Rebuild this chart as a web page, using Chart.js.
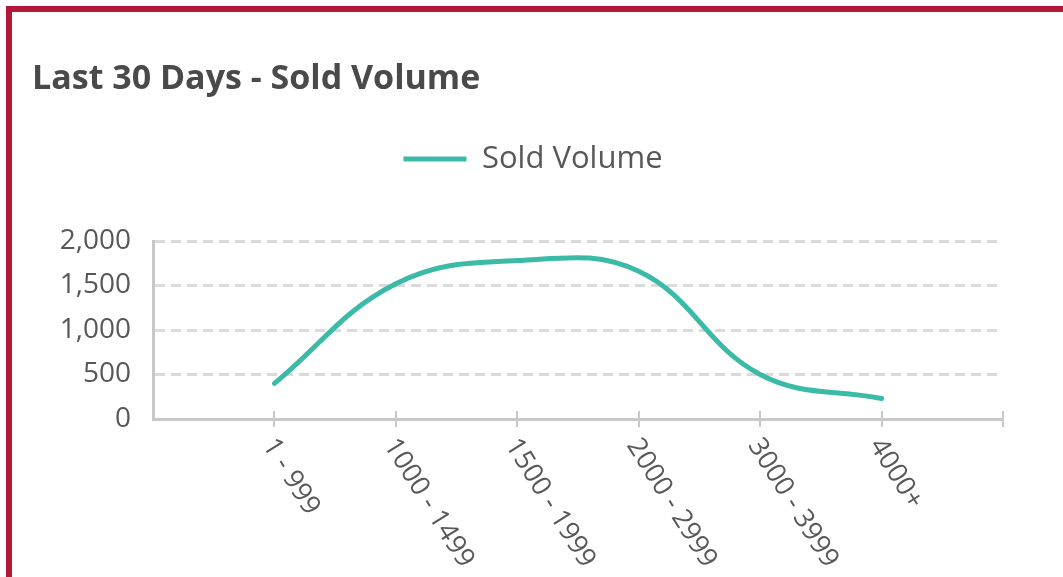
<!DOCTYPE html>
<html>
<head>
<meta charset="utf-8">
<script src="https://cdn.jsdelivr.net/npm/chart.js@4"></script>
<style>
    body { margin: 0; background: #fff; overflow: hidden; }
    #frame {
        position: absolute; left: 6px; top: 6px; width: 1100px; height: 620px;
        border-top: 6px solid #b3173a; border-left: 6px solid #b3173a;
    }
    #wrap { position: absolute; left: 0; top: 0; width: 1063px; height: 577px; }
</style>
</head>
<body>
<div id="frame"></div>
<div id="wrap"><canvas id="volumeChart"></canvas></div>
<script>
    const categories = ["1 - 999", "1000 - 1499", "1500 - 1999", "2000 - 2999", "3000 - 3999", "4000+"];
    const soldVolume = [400, 1520, 1780, 1660, 500, 230];
    const yTicks = [0, 500, 1000, 1500, 2000];

    const teal = "#3cbaa8";
    const axisGray = "#c8c8c8";
    const textGray = "#585858";

    Chart.defaults.font.family = "'Open Sans', 'Noto Sans', sans-serif";

    // rotated category labels + tick marks crossing the axis line
    const categoryLabels = {
        id: "categoryLabels",
        afterDraw(chart) {
            let ctx = chart.ctx;
            let x = chart.scales.x;
            let axisY = chart.chartArea.bottom;
            ctx.save();
            ctx.strokeStyle = axisGray;
            ctx.lineWidth = 2;
            for (let i = 0; i <= categories.length; i++) {
                let px = Math.round(x.getPixelForValue(i));
                ctx.beginPath();
                ctx.moveTo(px, axisY - 8);
                ctx.lineTo(px, axisY + 8);
                ctx.stroke();
            }
            ctx.fillStyle = textGray;
            ctx.font = "27px 'Open Sans'";
            ctx.textAlign = "left";
            ctx.textBaseline = "middle";
            categories.forEach((c, i) => {
                let px = x.getPixelForValue(i);
                ctx.save();
                ctx.translate(px - 6, axisY + 22);
                ctx.rotate(58 * Math.PI / 180);
                ctx.fillText(c, 0, 0);
                ctx.restore();
            });
            ctx.restore();
        }
    };

    new Chart(document.getElementById("volumeChart"), {
        type: "line",
        data: {
            datasets: [{
                label: "Sold Volume",
                data: soldVolume.map((v, i) => ({ x: i, y: v })),
                borderColor: teal,
                backgroundColor: teal,
                borderWidth: 5,
                borderCapStyle: "round",
                pointRadius: 0,
                tension: 0.4,
                fill: false
            }]
        },
        options: {
            responsive: true,
            maintainAspectRatio: false,
            animation: false,
            layout: { padding: { left: 32, right: 29, top: 0, bottom: 0 } },
            plugins: {
                title: {
                    display: true,
                    text: "Last 30 Days - Sold Volume",
                    align: "start",
                    color: "#4a4a4a",
                    font: { size: 34, weight: "bold" },
                    padding: { top: 58.8, bottom: 33.9 }
                },
                subtitle: {
                    display: true,
                    text: " ",
                    weight: 500,
                    font: { size: 10 },
                    padding: { top: 44.5, bottom: 0 }
                },
                legend: {
                    labels: {
                        color: textGray,
                        font: { size: 31 },
                        boxWidth: 63,
                        boxHeight: 5,
                        padding: 10,
                        generateLabels(chart) {
                            return Chart.defaults.plugins.legend.labels.generateLabels(chart)
                                .map(l => Object.assign(l, { lineWidth: 0, fillStyle: teal }));
                        }
                    }
                },
                tooltip: { enabled: false }
            },
            scales: {
                x: {
                    type: "linear",
                    min: -1,
                    max: categories.length,
                    ticks: { display: false, stepSize: 1 },
                    grid: { drawOnChartArea: false, drawTicks: false },
                    border: { color: axisGray, width: 3 },
                    afterFit: s => { s.height = 158; }
                },
                y: {
                    min: yTicks[0],
                    max: yTicks[yTicks.length - 1],
                    afterBuildTicks: s => { s.ticks = yTicks.map(v => ({ value: v })); },
                    ticks: { color: textGray, font: { size: 28 }, padding: 22 },
                    grid: { color: "#dadada", lineWidth: 3, drawTicks: false },
                    border: { color: axisGray, width: 3, dash: [10, 6] },
                    afterFit: s => { s.width = 121; }
                },
                gap: {
                    type: "linear",
                    position: "right",
                    ticks: { display: false },
                    grid: { display: false },
                    border: { display: false },
                    afterFit: s => { s.width = 31; }
                }
            }
        },
        plugins: [categoryLabels]
    });
</script>
</body>
</html>
